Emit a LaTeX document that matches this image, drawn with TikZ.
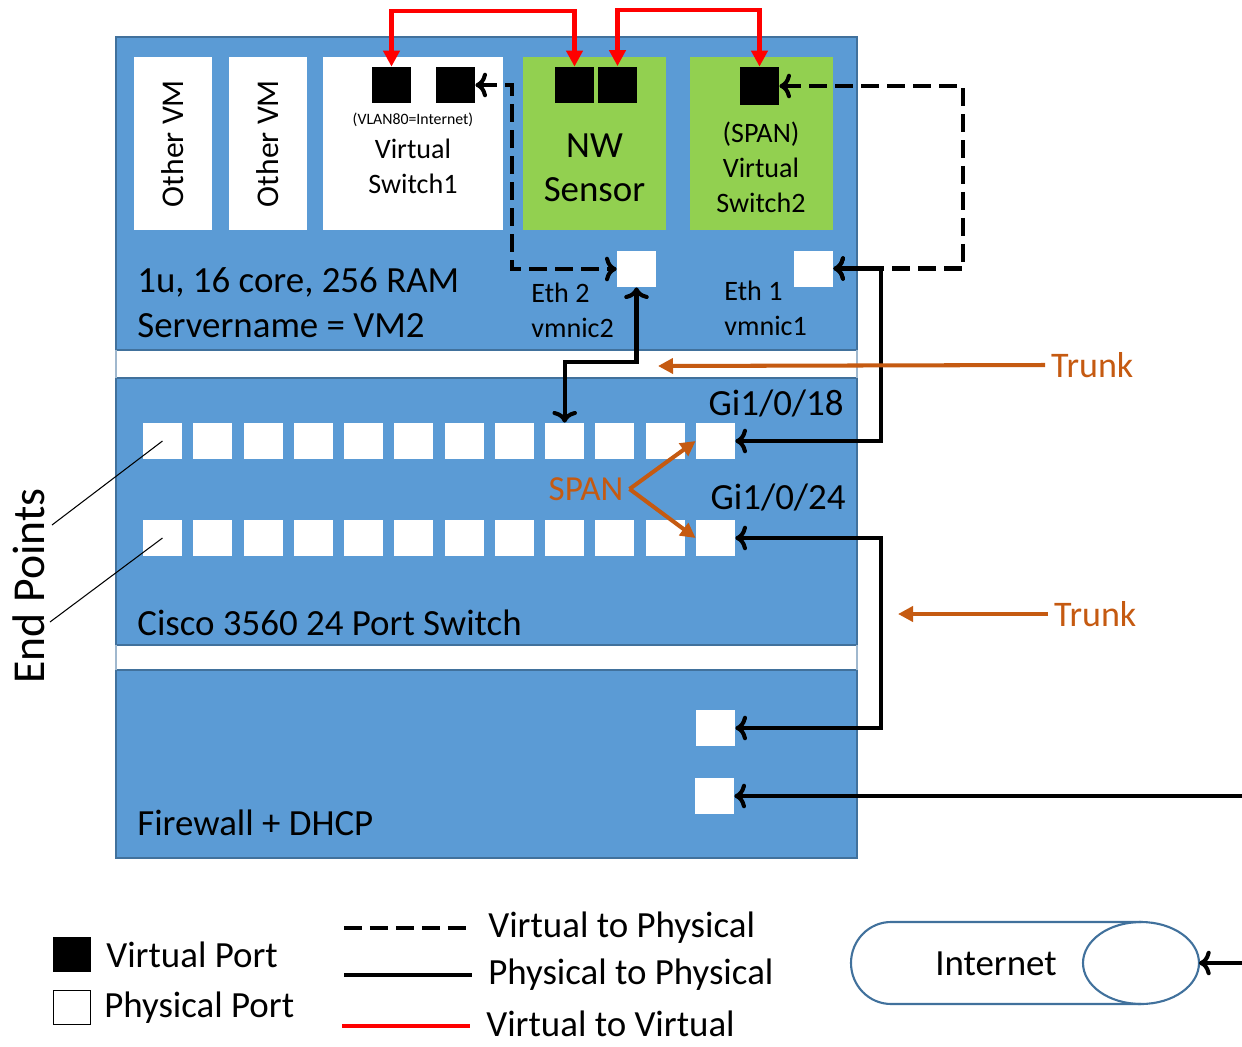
\documentclass[tikz,border=0pt]{standalone}
\usepackage{fontspec}
\setmainfont{Carlito}
\usetikzlibrary{shapes.geometric,arrows.meta,positioning,calc}
\definecolor{PanelBlue}{RGB}{91,155,213}
\definecolor{EdgeBlue}{RGB}{65,113,156}
\definecolor{SensorGreen}{RGB}{146,208,80}
\definecolor{TrunkOrange}{RGB}{197,90,17}
\definecolor{LinkRed}{RGB}{255,0,0}

\begin{document}
\begin{tikzpicture}[x=0.02cm,y=-0.02cm,
  panel/.style={draw=EdgeBlue,fill=PanelBlue,line width=0.8pt},
  vmbox/.style={fill=white,minimum width=1.56cm,minimum height=3.46cm,inner sep=0},
  swbox/.style={fill=#1,minimum width=2.86cm,minimum height=3.46cm,inner sep=0},
  vport/.style={fill=black,minimum width=0.78cm,minimum height=0.72cm,inner sep=0},
  pport/.style={fill=white,minimum width=0.78cm,minimum height=0.72cm,inner sep=0},
  txtbig/.style={font=\fontsize{21}{25.5}\selectfont},
  txtmid/.style={font=\fontsize{16}{20}\selectfont},
  txtsmall/.style={font=\fontsize{9}{11}\selectfont},
  pp/.style={draw=black,line width=2.3pt,arrows={-Triangle[length=0.32cm,width=0.32cm]}},
  vp/.style={pp,dash pattern=on 0.36cm off 0.16cm},
  vv/.style={draw=LinkRed,line width=2.3pt,arrows={Triangle[length=0.32cm,width=0.32cm]-Triangle[length=0.32cm,width=0.32cm]}},
  trunk/.style={draw=TrunkOrange,line width=2.3pt,arrows={-Triangle[length=0.3cm,width=0.3cm]}},
]
\useasboundingbox (0,0) rectangle (1242,1046);

\fill[panel] (116,37) rectangle (857,350);
\fill[panel] (116,378) rectangle (857,645);
\fill[panel] (116,670) rectangle (857,858);
\draw[panel] (116,37) rectangle (857,350);
\draw[panel] (116,378) rectangle (857,645);
\draw[panel] (116,670) rectangle (857,858);
\draw[EdgeBlue!50,line width=0.8pt] (116,350) -- (116,378) (857,350) -- (857,378)
  (116,645) -- (116,670) (857,645) -- (857,670);

\node[vmbox] (vm1) at (173,143.5) {};
\node[vmbox] (vm2) at (268,143.5) {};
\node[font=\fontsize{18}{22}\selectfont,rotate=90] at (vm1) {Other VM};
\node[font=\fontsize{18}{22}\selectfont,rotate=90] at (vm2) {Other VM};
\node[vmbox,minimum width=3.6cm] (vs1) at (413,143.5) {};
\node[swbox=SensorGreen] (nw) at (594.5,143.5) {};
\node[swbox=SensorGreen] (vs2) at (761.5,143.5) {};

\node[vport] (vs1a) at (391.5,85) {};
\node[vport] (vs1b) at (455.5,85) {};
\node[vport] (nwa) at (574.5,85) {};
\node[vport] (nwb) at (617.5,84.5) {};
\node[vport,minimum height=0.76cm] (vs2p) at (759.5,86) {};

\node[txtsmall,inner sep=0] at (413,120) {(VLAN80=Internet)};
\node[txtmid,align=center,inner sep=0] at (413,166) {Virtual\\Switch1};
\node[txtbig,align=center,inner sep=0,font=\fontsize{21}{25}\selectfont] at (594.5,168) {NW\\Sensor};
\node[txtmid,align=center,inner sep=0] at (761,167) {(SPAN)\\Virtual\\Switch2};

\node[pport] (eth2) at (636.5,269) {};
\node[pport] (eth1) at (813.5,268.5) {};
\node[txtmid,align=left,inner sep=0,anchor=west] at (531,310) {Eth 2\\vmnic2};
\node[txtmid,align=left,inner sep=0,anchor=west] at (724,308) {Eth 1\\vmnic1};
\node[txtbig,align=left,inner sep=0,anchor=west] at (137,303) {1u, 16 core, 256 RAM\\Servername = VM2};

\foreach \i in {1,...,12} {
  \node[pport] (rowa-\i) at ({162.5+(\i-1)*50.27},441) {};
  \node[pport] (rowb-\i) at ({162.5+(\i-1)*50.27},538) {};
}
\node[txtbig,inner sep=0,anchor=east] at (844,403) {Gi1/0/18};
\node[txtbig,inner sep=0,anchor=east] at (846,497) {Gi1/0/24};
\node[txtbig,inner sep=0,anchor=west] at (137,623) {Cisco 3560 24 Port Switch};
\node[text=TrunkOrange,font=\fontsize{20}{24}\selectfont] (span) at (586,489) {SPAN};
\draw[trunk] (span.east) -- (rowa-12.west);
\draw[trunk] (span.east) -- (rowb-12.west);

\node[pport] (fw1) at (715.5,728) {};
\node[pport] (fw2) at (714.5,796) {};
\node[txtbig,inner sep=0,anchor=west] at (137,823) {Firewall + DHCP};

\draw[vv] (vs1a.north) -- ++(0,-56) -| (nwa.north);
\draw[vv] (nwb.north) -- ++(0,-56) -| (vs2p.north);
\draw[vp,<->] (vs1b.east) -- ++(37,0) |- (eth2.west);
\draw[vp,<->] (vs2p.east) -- ++(184,0) |- (eth1.east);
\draw[pp,<->] (eth2.south) -- ++(0,75) -| (rowa-9.north);
\draw[pp,<->] (rowa-12.east) -- ++(146,0) |- (eth1.east);
\draw[pp,<->] (rowb-12.east) -- ++(146,0) |- (fw1.east);
\coordinate (fwin) at (1250,796);
\draw[pp,<-] (fw2.east) -- (fwin);

\node[text=TrunkOrange,font=\fontsize{20.5}{24}\selectfont,anchor=west] (trunka) at (1045,365) {Trunk};
\coordinate (trunkaend) at (658,366);
\draw[trunk] (trunka.west) -- (trunkaend);
\node[text=TrunkOrange,font=\fontsize{20.5}{24}\selectfont,anchor=west] (trunkb) at (1048,614) {Trunk};
\coordinate (trunkbend) at (898,614);
\draw[trunk] (trunkb.west) -- (trunkbend);

\node[font=\fontsize{26}{30}\selectfont,rotate=90,inner sep=0] (endpts) at (29,586) {End Points};
\coordinate (epa) at (52,525);
\coordinate (epb) at (50,622);
\draw[line width=0.6pt] (epa) -- (rowa-1.center);
\draw[line width=0.6pt] (epb) -- (rowb-1.center);

\node[vport,minimum width=0.76cm,minimum height=0.7cm] (legv) at (72,954.5) {};
\node[pport,draw=black,line width=1pt,minimum width=0.74cm,minimum height=0.68cm] (legp) at (72,1007.5) {};
\node[txtbig,inner sep=0,anchor=west] at (106,955) {Virtual Port};
\node[txtbig,inner sep=0,anchor=west] at (104,1008) {Physical Port};
\draw[vp,-] (344,928) -- (472,928);
\draw[pp,-] (344,975) -- (472,975);
\draw[vv,-] (342,1026) -- (470,1026);
\node[txtbig,inner sep=0,anchor=west] at (488,928) {Virtual to Physical};
\node[txtbig,inner sep=0,anchor=west] at (488,975) {Physical to Physical};
\node[txtbig,inner sep=0,anchor=west] at (486,1024) {Virtual to Virtual};

\draw[EdgeBlue,line width=1.2pt] (1141,922) -- (891,922)
  arc[start angle=90,end angle=270,x radius=0.8cm,y radius=0.82cm] -- (1141,1004);
\draw[EdgeBlue,line width=1.2pt] (1141,963) ellipse[x radius=1.16cm,y radius=0.82cm];
\node[txtbig] (inet) at (996,964) {Internet};
\coordinate (inetend) at (1199,963);
\coordinate (inetin) at (1250,963);
\draw[pp,<-] (inetend) -- (inetin);
\end{tikzpicture}
\end{document}
